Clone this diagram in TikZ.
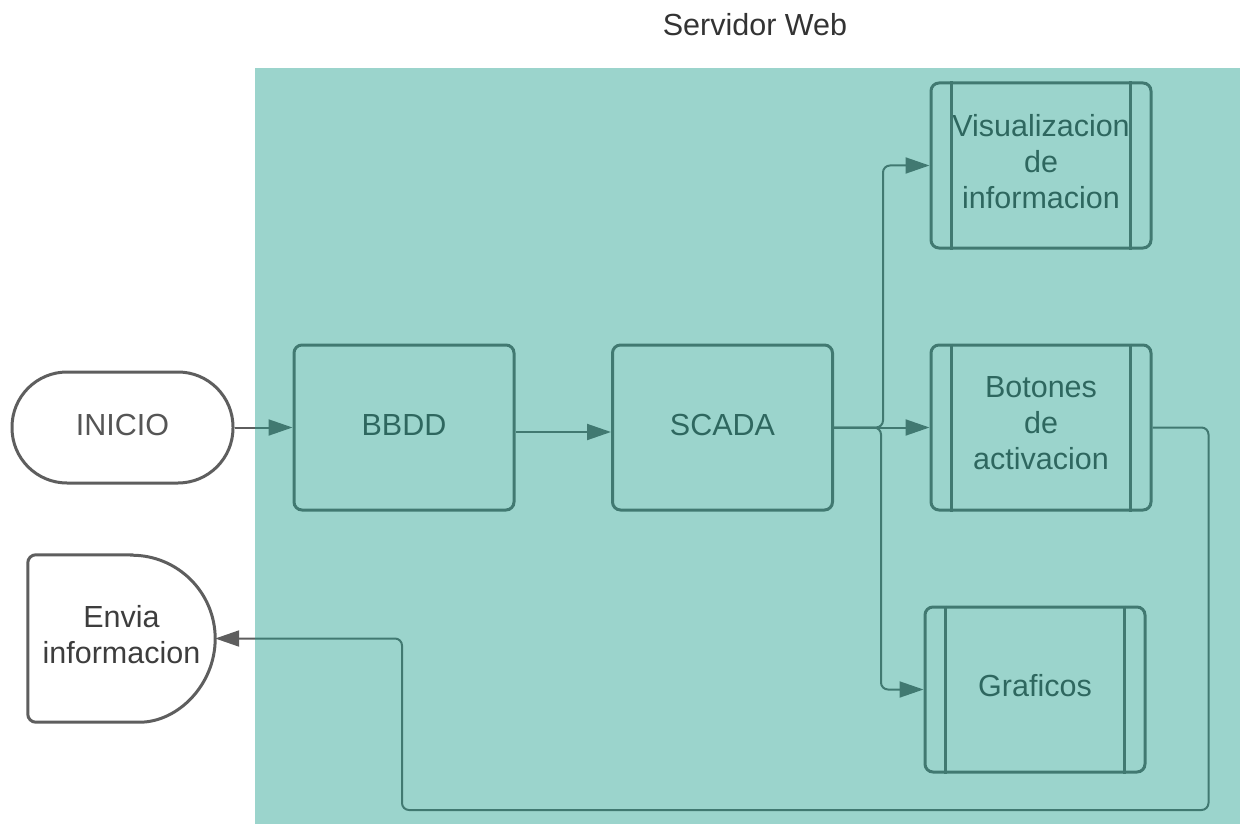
\documentclass[tikz,border=0pt]{standalone}
\usepackage{fontspec}
\setmainfont{Liberation Sans}
\usetikzlibrary{arrows.meta}
\definecolor{edgegray}{HTML}{5E5E5E}
\definecolor{txtgray}{HTML}{3D3D3D}
\definecolor{initxt}{HTML}{555555}
\definecolor{titletxt}{HTML}{333333}
\definecolor{tealov}{RGB}{28,157,139}
\tikzset{
  lbl/.style={font=\fontsize{30.5pt}{36pt}\selectfont, text=txtgray, align=center, inner sep=0pt},
  boxtext/.style={label={[lbl, yshift=4pt]center:#1}},
  boxtextb/.style={label={[lbl, yshift=2.5pt]center:#1}},
  procbox/.style={draw=edgegray, line width=3pt, rounded corners=8pt,
    minimum width=220pt, minimum height=165pt, inner sep=0pt},
  subbox/.style={procbox},
  sideline/.style={draw=edgegray, line width=3pt},
  conn/.style={draw=edgegray, line width=2pt, rounded corners=7pt,
    -{Triangle[length=24pt,width=16pt]}},
}
\begin{document}
\begin{tikzpicture}[x=1pt,y=-1pt]
\useasboundingbox (0,0) rectangle (1240,824);

% terminals
\node[draw=edgegray, line width=3pt, rounded corners=55pt,
      minimum width=221pt, minimum height=111pt, inner sep=0pt,
      label={[lbl, text=initxt, yshift=2.5pt]center:INICIO}] (ini) at (122.5,427.5) {};
\node[minimum width=187pt, minimum height=167pt, inner sep=0pt,
      boxtext={Envia\\informacion}] (env) at (121.5,638.5) {};
\draw[edgegray, line width=3pt, rounded corners=8pt]
  ([xshift=-83.5pt]env.north east) -- (env.north west) -- (env.south west) -- ([xshift=-83.5pt]env.south east)
  [sharp corners] arc (90:-90:83.5) -- cycle;

% process boxes
\node[procbox, boxtextb=BBDD] (bbdd) at (404,427.5) {};
\node[procbox, boxtextb=SCADA] (scada) at (722.5,427.5) {};

% predefined process boxes
\node[subbox, boxtext={Visualizacion\\de\\informacion}] (visu) at (1041,165.5) {};
\node[subbox, boxtext={Botones\\de\\activacion}] (bot) at (1041,427.5) {};
\node[subbox, boxtext=Graficos] (graf) at (1035,689.5) {};
\foreach \n in {visu,bot,graf}{
  \draw[sideline] ([xshift=22pt]\n.north west) -- ([xshift=22pt]\n.south west);
  \draw[sideline] ([xshift=-22pt]\n.north east) -- ([xshift=-22pt]\n.south east);
}

% connectors
\draw[conn] (ini.east) -- (bbdd.west);
\draw[conn] ([yshift=-4.5pt]bbdd.east) -- ([yshift=-4.5pt]bbdd.east -| scada.west);
\draw[conn] (scada.east) -- ++(49,0) |- (visu.west);
\draw[conn] (scada.east) -- (bot.west);
\draw[conn] (scada.east) -- ++(47,0) |- (graf.west);
\draw[conn] (bot.east) -- ++(56,0) |- (402,810) |- (env.east);

% web server container (translucent overlay)
\fill[tealov, fill opacity=0.44] (255,68) rectangle (1240,824);

% title
\node[lbl, text=titletxt] (title) at (755,25) {Servidor Web};
\end{tikzpicture}
\end{document}
